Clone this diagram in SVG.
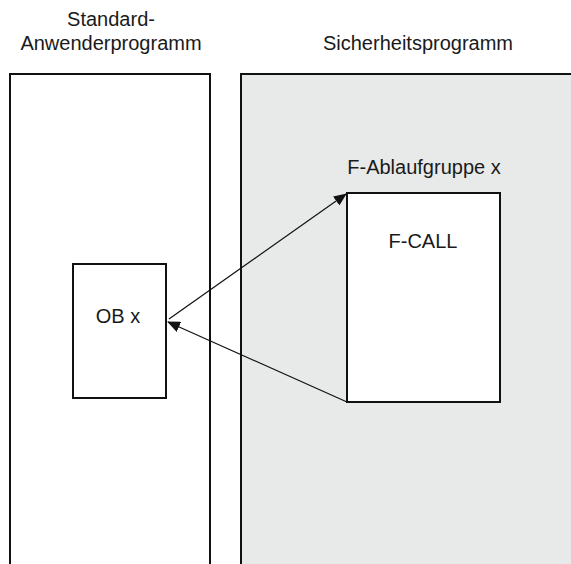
<svg xmlns="http://www.w3.org/2000/svg" width="571" height="564" viewBox="0 0 571 564">
<style>
text{font-family:"Liberation Sans",Arial,sans-serif;font-size:20px;fill:#1a1a1a;text-anchor:middle}
.box{stroke:#111;stroke-width:2}
.conn{stroke:#111;stroke-width:1.2;fill:none}
</style>
<defs>
<marker id="ah" markerWidth="13" markerHeight="11" refX="12" refY="5.5" orient="auto" markerUnits="userSpaceOnUse">
<path d="M0,0 L13,5.5 L0,11 Z" fill="#111"/>
</marker>
</defs>
<rect width="571" height="564" fill="#fff"/>
<g id="standard">
<rect x="10" y="74" width="200" height="500" fill="#fff"/>
<path class="box" d="M10,565 V74 H210 V565" fill="none"/>
<text x="111" y="26">Standard-</text>
<text x="111" y="50">Anwenderprogramm</text>
</g>
<g id="sicherheit">
<rect x="241" y="74" width="340" height="500" fill="#e8eae9"/>
<path class="box" d="M241,565 V74 H572" fill="none"/>
<text x="418" y="50">Sicherheitsprogramm</text>
</g>
<g id="obx">
<rect class="box" x="73" y="264" width="93" height="134" fill="#fff"/>
<text x="118" y="323">OB x</text>
</g>
<g id="fablauf">
<text x="424" y="174">F-Ablaufgruppe x</text>
<rect class="box" x="347" y="193" width="153" height="209" fill="#fff"/>
<text x="423" y="248">F-CALL</text>
</g>
<g id="connectors">
<line class="conn" x1="169" y1="319" x2="346" y2="194" marker-end="url(#ah)"/>
<line class="conn" x1="347" y1="402" x2="168" y2="322" marker-end="url(#ah)"/>
</g>
</svg>
